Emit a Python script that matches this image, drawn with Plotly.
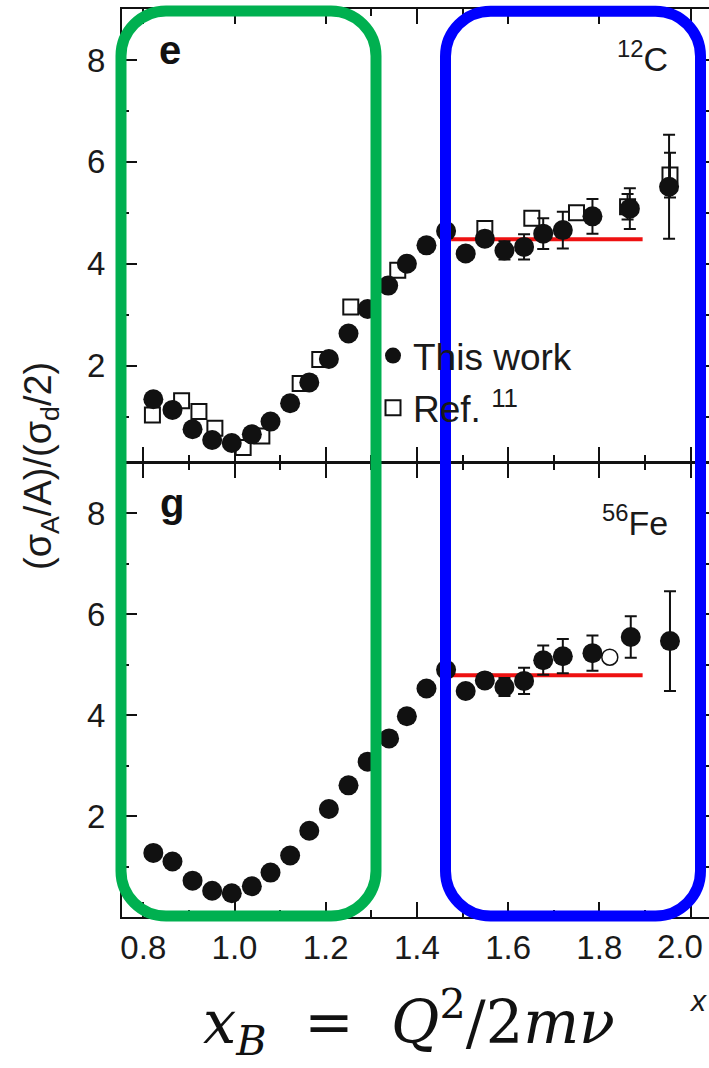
import plotly.graph_objects as go

# ---------------- data ----------------
# 12C, "This work"
c_x = [0.822, 0.864, 0.908, 0.951, 0.994, 1.038, 1.079, 1.122, 1.164, 1.207, 1.250, 1.292, 1.337,
       1.378, 1.421, 1.464, 1.507, 1.549, 1.592, 1.635, 1.677, 1.720, 1.785, 1.867, 1.953]
c_y = [1.34, 1.13, 0.75, 0.54, 0.48, 0.65, 0.90, 1.26, 1.67, 2.13, 2.63, 3.11, 3.57,
       4.00, 4.36, 4.64, 4.20, 4.49, 4.26, 4.33, 4.59, 4.66, 4.93, 5.08, 5.51]
c_err = [0.02, 0.02, 0.02, 0.02, 0.02, 0.02, 0.02, 0.03, 0.03, 0.04, 0.05, 0.06, 0.07,
         0.08, 0.09, 0.10, 0.12, 0.14, 0.18, 0.25, 0.30, 0.36, 0.34, 0.40, 1.02]

# 12C, Ref. 11
r_x = [0.820, 0.884, 0.922, 0.957, 1.019, 1.060, 1.144, 1.187, 1.255, 1.358, 1.549, 1.652, 1.750, 1.862, 1.955]
r_y = [1.03, 1.31, 1.10, 0.77, 0.39, 0.62, 1.65, 2.12, 3.15, 3.87, 4.69, 4.89, 5.00, 5.12, 5.74]
r_err = [0, 0, 0, 0, 0, 0, 0, 0, 0, 0, 0, 0, 0, 0.25, 0.44]

# 56Fe, "This work"
fe_x = [0.822, 0.864, 0.908, 0.951, 0.994, 1.038, 1.079, 1.122, 1.164, 1.207, 1.250, 1.292, 1.339,
        1.378, 1.421, 1.464, 1.507, 1.549, 1.592, 1.635, 1.677, 1.720, 1.785, 1.869, 1.955]
fe_y = [1.27, 1.10, 0.72, 0.52, 0.47, 0.61, 0.88, 1.22, 1.71, 2.14, 2.61, 3.08, 3.54,
        3.98, 4.53, 4.90, 4.48, 4.69, 4.56, 4.68, 5.09, 5.17, 5.23, 5.55, 5.47]
fe_err = [0.02, 0.02, 0.02, 0.02, 0.02, 0.02, 0.02, 0.03, 0.03, 0.04, 0.05, 0.06, 0.07,
          0.08, 0.09, 0.10, 0.12, 0.14, 0.18, 0.26, 0.29, 0.34, 0.35, 0.41, 0.99]

# 56Fe, open circle
feo_x = [1.823]
feo_y = [5.15]

# plateau lines
plat_x = [1.475, 1.895]
plat_c = [4.48, 4.48]
plat_fe = [4.79, 4.79]

x_ticks = [0.8, 1.0, 1.2, 1.4, 1.6, 1.8, 2.0]
x_ticklabels = ["0.8", "1.0", "1.2", "1.4", "1.6", "1.8", "2.0"]
y_ticks = [2, 4, 6, 8]

# ---------------- geometry ----------------
# figure is a few px wider than the window: the right frame falls just outside, as in the reference
W, H = 713, 1068
ML, MR, MT, MB = 122, 0, 9, 151
PW, PH = W - ML - MR, H - MT - MB
PX_PER_UNIT = 456.0


def pp(X, Y):
    return (X - ML) / PW, (H - MB - Y) / PH


def rrect(L, T, R, B, r):
    k = 0.5523 * r
    pts = [
        ("M", [(L + r, T)]),
        ("L", [(R - r, T)]),
        ("C", [(R - r + k, T), (R, T + r - k), (R, T + r)]),
        ("L", [(R, B - r)]),
        ("C", [(R, B - r + k), (R - r + k, B), (R - r, B)]),
        ("L", [(L + r, B)]),
        ("C", [(L + r - k, B), (L, B - r + k), (L, B - r)]),
        ("L", [(L, T + r)]),
        ("C", [(L, T + r - k), (L + r - k, T), (L + r, T)]),
    ]
    s = ""
    for cmd, ps in pts:
        s += cmd + " " + " ".join("%.5f,%.5f" % pp(X, Y) for X, Y in ps) + " "
    return s + "Z"


BLACK = "#111111"
FONT = "Liberation Sans"
TICKFONT = dict(family=FONT, size=33, color="#1a1a1a")

fig = go.Figure()

err_style = dict(type="data", thickness=2, width=6, color=BLACK)

# top panel (12C)
fig.add_trace(go.Scatter(x=r_x, y=r_y, mode="markers", name="Ref. <sup>11</sup>",
                         xaxis="x2", yaxis="y2", legendgroup="r", legendrank=2,
                         marker=dict(symbol="square-open", size=15, color=BLACK, line=dict(width=2, color=BLACK))))
idx = [i for i, e in enumerate(r_err) if e > 0]
fig.add_trace(go.Scatter(x=[r_x[i] for i in idx], y=[r_y[i] for i in idx], mode="markers",
                         showlegend=False, xaxis="x2", yaxis="y2", hoverinfo="skip",
                         marker=dict(size=1, color="rgba(0,0,0,0)"),
                         error_y=dict(array=[r_err[i] for i in idx], **err_style)))
fig.add_trace(go.Scatter(x=plat_x, y=plat_c, mode="lines", showlegend=False,
                         xaxis="x2", yaxis="y2", line=dict(color="#ee1111", width=4)))
fig.add_trace(go.Scatter(x=c_x, y=c_y, mode="markers", name="This work",
                         xaxis="x2", yaxis="y2", legendgroup="c", legendrank=1,
                         marker=dict(symbol="circle", size=20, color=BLACK),
                         error_y=dict(array=c_err, **err_style)))

# bottom panel (56Fe)
fig.add_trace(go.Scatter(x=plat_x, y=plat_fe, mode="lines", showlegend=False,
                         xaxis="x", yaxis="y", line=dict(color="#ee1111", width=4)))
fig.add_trace(go.Scatter(x=fe_x, y=fe_y, mode="markers", showlegend=False,
                         xaxis="x", yaxis="y",
                         marker=dict(symbol="circle", size=20, color=BLACK),
                         error_y=dict(array=fe_err, **err_style)))
fig.add_trace(go.Scatter(x=feo_x, y=feo_y, mode="markers", showlegend=False,
                         xaxis="x", yaxis="y",
                         marker=dict(symbol="circle-open", size=16, color=BLACK, line=dict(width=1.5, color=BLACK))))

x0 = 0.8 - (143.3 - ML) / PX_PER_UNIT
xr = [x0, x0 + PW / PX_PER_UNIT]
axis_common = dict(showline=True, linecolor=BLACK, linewidth=2, mirror="ticks",
                   ticks="inside", ticklen=15, tickwidth=2, tickcolor=BLACK,
                   showgrid=False, zeroline=False, automargin=False,
                   tickfont=TICKFONT)

# the last x label sits slightly left of its tick in the reference (it would overflow otherwise)
shown_ticktext = x_ticklabels[:-1] + [""]

fig.update_layout(
    width=W, height=H, margin=dict(l=ML, r=MR, t=MT, b=MB, autoexpand=False),
    paper_bgcolor="white", plot_bgcolor="white",
    xaxis=dict(range=xr, domain=[0, 1], anchor="y", tickvals=x_ticks, ticktext=shown_ticktext,
               minor=dict(dtick=0.1, tick0=0.8, ticklen=7, tickwidth=2, tickcolor=BLACK, ticks="inside"),
               ticklabelstandoff=0, **axis_common),
    yaxis=dict(range=[0, 9], domain=[0, 0.5], anchor="x", tickvals=y_ticks,
               minor=dict(dtick=1, tick0=0, ticklen=7, tickwidth=2, tickcolor=BLACK, ticks="inside"),
               ticklabelstandoff=8, **axis_common),
    xaxis2=dict(range=xr, domain=[0, 1], anchor="y2", matches="x", tickvals=x_ticks,
                showticklabels=False,
                minor=dict(dtick=0.1, tick0=0.8, ticklen=7, tickwidth=2, tickcolor=BLACK, ticks="inside"),
                **axis_common),
    yaxis2=dict(range=[0.1, 9], domain=[0.5007, 1], anchor="x2", tickvals=y_ticks,
                minor=dict(dtick=1, tick0=0, ticklen=7, tickwidth=2, tickcolor=BLACK, ticks="inside"),
                ticklabelstandoff=8, **axis_common),
    showlegend=True,
    legend=dict(x=pp(373, 0)[0], y=pp(0, 325)[1], xanchor="left", yanchor="top",
                bgcolor="rgba(0,0,0,0)", font=dict(family=FONT, size=37, color="#1a1a1a"),
                traceorder="grouped", tracegroupgap=1, itemsizing="trace"),
)

ann = []
ann.append(dict(text=x_ticklabels[-1], x=pp(705, 0)[0], y=pp(0, 946)[1], xref="paper", yref="paper",
                xanchor="right", yanchor="middle", showarrow=False, font=TICKFONT))
ann.append(dict(text="(σ<sub>A</sub>/A)/(σ<sub>d</sub>/2)", textangle=-90,
                x=pp(41, 0)[0], y=pp(0, 466)[1], xref="paper", yref="paper",
                xanchor="center", yanchor="middle",
                showarrow=False, font=dict(family=FONT, size=38, color="#1a1a1a")))
ann.append(dict(text="<b>e</b>", x=pp(157, 0)[0], y=pp(0, 50)[1], xref="paper", yref="paper",
                xanchor="left", yanchor="middle", showarrow=False,
                font=dict(family=FONT, size=40, color=BLACK)))
ann.append(dict(text="<b>g</b>", x=pp(158, 0)[0], y=pp(0, 503)[1], xref="paper", yref="paper",
                xanchor="left", yanchor="middle", showarrow=False,
                font=dict(family=FONT, size=40, color=BLACK)))
ann.append(dict(text="<sup>12</sup>C", x=pp(670, 0)[0], y=pp(0, 57)[1], xref="paper", yref="paper",
                xanchor="right", yanchor="middle", showarrow=False,
                font=dict(family=FONT, size=34, color="#1a1a1a")))
ann.append(dict(text="<sup>56</sup>Fe", x=pp(670, 0)[0], y=pp(0, 520)[1], xref="paper", yref="paper",
                xanchor="right", yanchor="middle", showarrow=False,
                font=dict(family=FONT, size=34, color="#1a1a1a")))
ann.append(dict(text="<i>x</i>", x=pp(709, 0)[0], y=pp(0, 1000)[1], xref="paper", yref="paper",
                xanchor="right", yanchor="middle", showarrow=False,
                font=dict(family=FONT, size=30, color="#1a1a1a")))
ann.append(dict(text="<i>x</i><sub><i>B</i></sub>&nbsp;&nbsp;=&nbsp;&nbsp;<i>Q</i><sup>2</sup>/2<i>mν</i>",
                x=pp(409, 0)[0], y=pp(0, 1022)[1], xref="paper", yref="paper",
                xanchor="center", yanchor="middle", showarrow=False,
                font=dict(family="DejaVu Serif", size=59, color=BLACK)))
fig.update_layout(annotations=ann)

shapes = [
    dict(type="path", xref="paper", yref="paper", path=rrect(121, 11, 376, 916, 45),
         line=dict(color="#00b050", width=11), layer="above"),
    dict(type="path", xref="paper", yref="paper", path=rrect(445.5, 11.3, 700.5, 916, 45),
         line=dict(color="#0000ff", width=11), layer="above"),
]
fig.update_layout(shapes=shapes)

fig.write_html("out.html", config=dict(displayModeBar=False),
               post_script="document.body.style.margin='0';document.body.style.padding='0';"
                           "document.body.style.overflow='hidden';")
